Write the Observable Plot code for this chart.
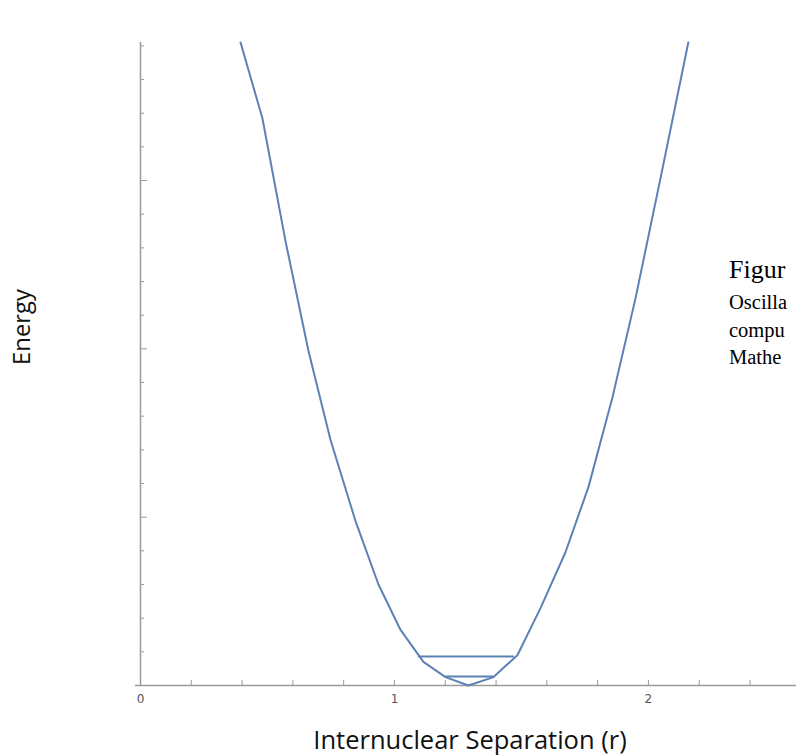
<!DOCTYPE html>
<html><head><meta charset="utf-8">
<script src="https://cdn.jsdelivr.net/npm/d3@7"></script>
<script src="https://cdn.jsdelivr.net/npm/@observablehq/plot@0.6"></script>
<style>
html,body{margin:0;padding:0;background:#fff;overflow:hidden;width:796px;height:756px;}
#chart{position:absolute;left:0;top:0;width:796px;height:756px;overflow:hidden;}
</style></head><body>
<div id="chart"></div>
<script>
// Potential curve vertices (internuclear separation r, energy in axis units)
const rValues      = [0.394, 0.480, 0.571, 0.661, 0.748, 0.846, 0.937, 1.024, 1.114, 1.201, 1.291, 1.390, 1.484, 1.575, 1.673, 1.764, 1.858, 1.949, 2.047, 2.157];
const energyValues = [3.82,  3.37,  2.64,  1.99,  1.46,  0.98,  0.60,  0.33,  0.14,  0.05,  0.00,  0.05,  0.18,  0.46,  0.79,  1.18,  1.71,  2.30,  3.01,  3.82];
// Vibrational energy levels
const levelEnergy = [0.053, 0.172];
const levelLeft   = [1.201, 1.094];
const levelRight  = [1.390, 1.472];
// Axis ticks
const xMinorTicks = [0.2, 0.4, 0.6, 0.8, 1.0, 1.2, 1.4, 1.6, 1.8, 2.0, 2.2, 2.4];
const xTickLabels = [0, 1, 2];
const yMinorTicks = [0.2,0.4,0.6,0.8,1.2,1.4,1.6,1.8,2.2,2.4,2.6,2.8,3.2,3.4,3.6,3.8];
const yMajorTicks = [1, 2, 3];
const xDomain = [0, 2.583];
const yDomain = [0, 3.82];
const xTitle = "Internuclear Separation (r)";
const yTitle = "Energy";
// Caption text as visible at the right edge of the (cropped) reference
const noteLines = ["Figur", "Oscilla", "compu", "Mathe"];

const W = 796, H = 756, mL = 140, mR = 0, mT = 42, mB = 71;
const xPx = (W - mL - mR) / (xDomain[1] - xDomain[0]);
const yPx = (H - mT - mB) / (yDomain[1] - yDomain[0]);

const curve = rValues.map((r, i) => ({r, e: energyValues[i]}));
const levels = levelEnergy.map((e, i) => ({e, a: levelLeft[i], b: levelRight[i]}));

const axisColor = "#9a9a9a";
const lineColor = "#5e81b5";

const plot = Plot.plot({
  width: W, height: H,
  marginLeft: mL, marginRight: mR, marginTop: mT, marginBottom: mB,
  x: {domain: xDomain, axis: null},
  y: {domain: yDomain, axis: null},
  style: {background: "transparent", overflow: "hidden"},
  marks: [
    Plot.ruleX([0], {stroke: axisColor, strokeWidth: 1.5}),
    Plot.ruleY([0], {x1: -5 / xPx, x2: xDomain[1], stroke: axisColor, strokeWidth: 1.5}),
    Plot.ruleX(xMinorTicks, {x: d => d, y1: 0, y2: 5 / yPx, stroke: axisColor, strokeWidth: 1}),
    Plot.ruleY(yMinorTicks, {y: d => d, x1: 0, x2: 4 / xPx, stroke: axisColor, strokeWidth: 1}),
    Plot.ruleY(yMajorTicks, {y: d => d, x1: 0, x2: 7 / xPx, stroke: axisColor, strokeWidth: 1}),
    Plot.text(xTickLabels, {x: d => d, y: 0, text: d => String(d), dy: 14, fontSize: 12, fill: "#555", fontFamily: "DejaVu Sans"}),
    Plot.line(curve, {x: "r", y: "e", stroke: lineColor, strokeWidth: 2, curve: "linear"}),
    Plot.ruleY(levels, {y: "e", x1: "a", x2: "b", stroke: lineColor, strokeWidth: 2})
  ]
});

const svg = d3.select(plot);
svg.append("text")
  .attr("x", 470).attr("y", 749)
  .attr("text-anchor", "middle")
  .attr("font-family", "'Open Sans', sans-serif")
  .attr("font-size", 25.5)
  .attr("fill", "#111")
  .text(xTitle);
svg.append("text")
  .attr("transform", "translate(30,327) rotate(-90)")
  .attr("text-anchor", "middle")
  .attr("font-family", "'Open Sans', sans-serif")
  .attr("font-size", 23.8)
  .attr("fill", "#111")
  .text(yTitle);
const noteY = [278, 309, 336.5, 363.5];
const noteSize = [26, 20.5, 20.5, 20.5];
noteLines.forEach((t, i) => {
  svg.append("text")
    .attr("x", 729).attr("y", noteY[i])
    .attr("text-anchor", "start")
    .attr("font-family", "'Liberation Serif', 'Times New Roman', serif")
    .attr("font-size", noteSize[i])
    .attr("fill", "#000")
    .text(t);
});
document.getElementById("chart").appendChild(plot);
</script>
</body></html>
